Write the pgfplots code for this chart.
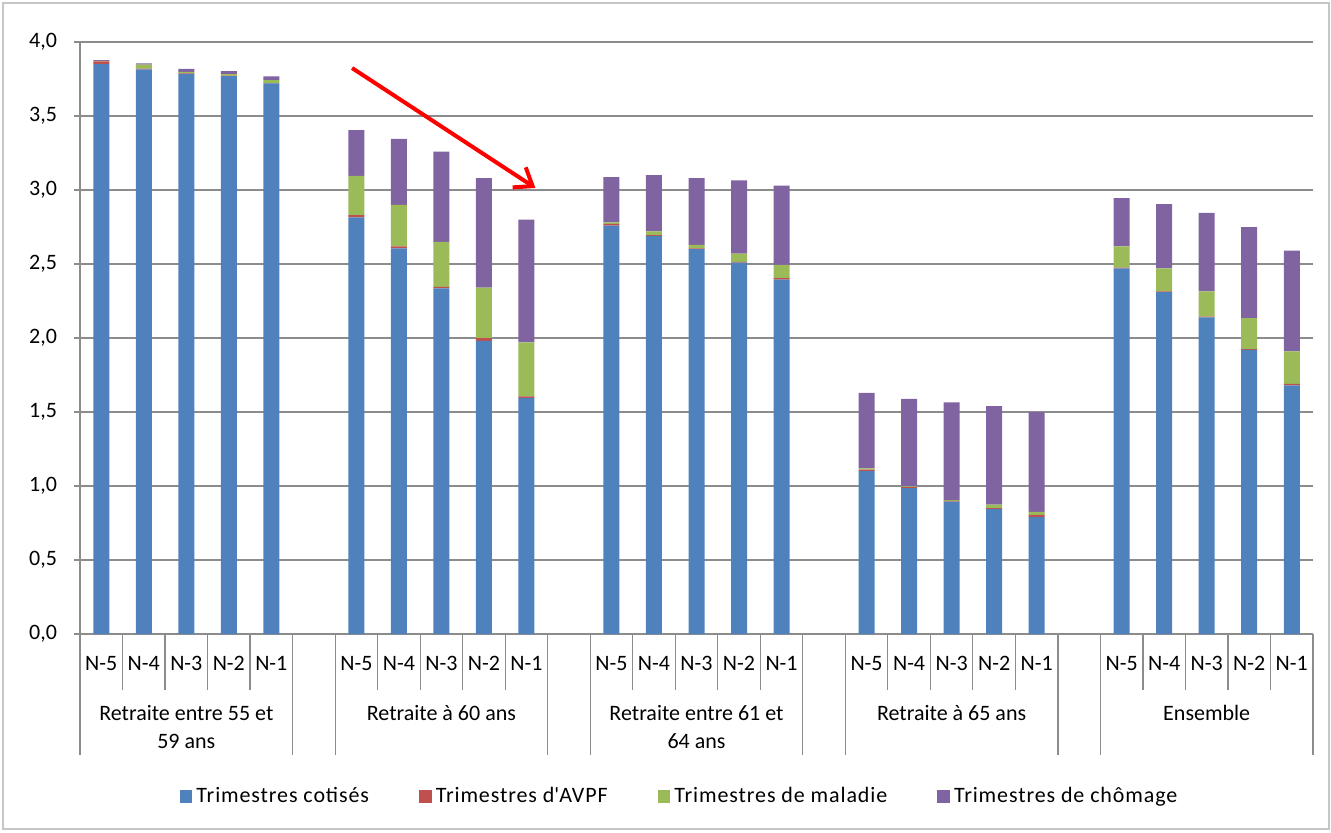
\documentclass[border=0pt]{standalone}
\usepackage{pgfplots}
\pgfplotsset{compat=1.18}
\usepackage{pgfplotstable}
\usepackage{fontspec}
\setmainfont{Carlito}
\usetikzlibrary{arrows.meta}
\definecolor{cBlue}{HTML}{4F81BD}
\definecolor{cRed}{HTML}{C0504D}
\definecolor{cGreen}{HTML}{9BBB59}
\definecolor{cPurple}{HTML}{8064A2}
\definecolor{cGrid}{HTML}{8C8C8C}

\pgfplotstableread{
x cot avpf mal cho
0 3.850 0.020 0.003 0.005
1 3.815 0.005 0.028 0.007
2 3.785 0.003 0.010 0.020
3 3.770 0.003 0.010 0.020
4 3.720 0.003 0.020 0.025
6 2.815 0.015 0.265 0.310
7 2.605 0.015 0.280 0.445
8 2.335 0.010 0.305 0.610
9 1.980 0.020 0.340 0.740
10 1.595 0.010 0.365 0.830
12 2.760 0.012 0.010 0.305
13 2.690 0.005 0.025 0.380
14 2.600 0.005 0.025 0.450
15 2.510 0.005 0.055 0.495
16 2.395 0.010 0.090 0.535
18 1.100 0.010 0.010 0.510
19 0.985 0.008 0.005 0.590
20 0.895 0.005 0.005 0.660
21 0.845 0.005 0.025 0.665
22 0.790 0.015 0.020 0.675
24 2.470 0.005 0.145 0.325
25 2.310 0.005 0.155 0.435
26 2.140 0.005 0.170 0.530
27 1.920 0.005 0.210 0.615
28 1.680 0.010 0.220 0.680
}\data

\begin{document}
\begin{tikzpicture}[font=\fontsize{11}{13}\selectfont]
\path[use as bounding box] (-40pt,-99pt) rectangle (625.5pt,317pt);
\draw[gray!45, line width=0.8pt] (-38.5pt,-97.5pt) rectangle (624.5pt,315.5pt);
\begin{axis}[
  at={(0pt,0pt)}, anchor=south west,
  scale only axis, width=616.5pt, height=296pt,
  ybar stacked, bar width=8pt,
  xmin=-0.5, xmax=28.5, ymin=0, ymax=4,
  clip=false,
  axis x line*=bottom, axis y line*=left,
  axis line style={cGrid, line width=0.6pt},
  ytick={0,0.5,1,1.5,2,2.5,3,3.5,4},
  ymajorgrids, grid style={cGrid, line width=0.6pt},
  tick align=outside, major tick length=3pt,
  y tick style={cGrid, line width=0.6pt},
  x tick style={draw=none},
  /pgf/number format/.cd, use comma, fixed, fixed zerofill, precision=1, assume math mode=true,
  /pgfplots/.cd,
  yticklabel style={font=\fontsize{11}{13}\selectfont, xshift=-5pt},
  xtick={0,1,2,3,4,6,7,8,9,10,12,13,14,15,16,18,19,20,21,22,24,25,26,27,28},
  xticklabels={N-5,N-4,N-3,N-2,N-1,N-5,N-4,N-3,N-2,N-1,N-5,N-4,N-3,N-2,N-1,N-5,N-4,N-3,N-2,N-1,N-5,N-4,N-3,N-2,N-1},
  xticklabel style={anchor=base, yshift=-15pt, font=\fontsize{11}{13}\selectfont},
  legend style={at={(axis description cs:0.487,-0.275)}, anchor=center, draw=none, fill=none,
    legend columns=4, font=\fontsize{11}{13}\selectfont\addfontfeatures{LetterSpace=4},
    /tikz/every even column/.append style={column sep=23pt}},
  legend image code/.code={\fill[#1] (0pt,-3.2pt) rectangle (6.4pt,3.2pt);},
]
\addplot[fill=cBlue, draw=none] table[x=x, y=cot] {\data};
\addplot[fill=cRed, draw=none] table[x=x, y=avpf] {\data};
\addplot[fill=cGreen, draw=none] table[x=x, y=mal] {\data};
\addplot[fill=cPurple, draw=none] table[x=x, y=cho] {\data};
\legend{Trimestres cotisés, Trimestres d\textquotesingle AVPF, Trimestres de maladie, Trimestres de chômage}

% separators
\pgfplotsinvokeforeach{0,6,12,18,24}{
  \draw[cGrid, line width=0.6pt] (axis cs:#1-0.5,0) -- ++(0pt,-60.5pt);
  \draw[cGrid, line width=0.6pt] (axis cs:#1+4.5,0) -- ++(0pt,-60.5pt);
  \draw[cGrid, line width=0.6pt] (axis cs:#1+0.5,0) -- ++(0pt,-28pt);
  \draw[cGrid, line width=0.6pt] (axis cs:#1+1.5,0) -- ++(0pt,-28pt);
  \draw[cGrid, line width=0.6pt] (axis cs:#1+2.5,0) -- ++(0pt,-28pt);
  \draw[cGrid, line width=0.6pt] (axis cs:#1+3.5,0) -- ++(0pt,-28pt);
}
% group labels
\node[anchor=base] at ([yshift=-43.25pt]axis cs:2,0) {Retraite entre 55 et};
\node[anchor=base] at ([yshift=-57.25pt]axis cs:2,0) {59 ans};
\node[anchor=base] at ([yshift=-43.25pt]axis cs:8,0) {Retraite à 60 ans};
\node[anchor=base] at ([yshift=-43.25pt]axis cs:14,0) {Retraite entre 61 et};
\node[anchor=base] at ([yshift=-57.25pt]axis cs:14,0) {64 ans};
\node[anchor=base] at ([yshift=-43.25pt]axis cs:20,0) {Retraite à 65 ans};
\node[anchor=base] at ([yshift=-43.25pt]axis cs:26,0) {Ensemble};
% arrow
\draw[red, line width=2pt, -{Straight Barb[length=8pt,width=12pt]}] (axis cs:5.9,3.824) -- (axis cs:10.21,3.014);
\end{axis}
\end{tikzpicture}
\end{document}
